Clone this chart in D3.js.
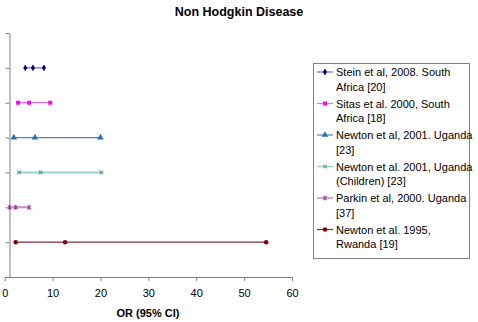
<!DOCTYPE html>
<html>
<head>
<meta charset="utf-8">
<script src="https://cdn.jsdelivr.net/npm/d3@7"></script>
<style>
  body { margin: 0; background: #fff; }
  svg { font-family: Arial, "Liberation Sans", sans-serif; }
  .axis path, .axis line { stroke: #808080; }
  .axis text { fill: #000; font-size: 11px; }
</style>
</head>
<body>
<div id="chart"></div>
<script>
// studies, top to bottom
var studies = [
  "Stein et al, 2008. South Africa [20]",
  "Sitas et al. 2000, South Africa [18]",
  "Newton et al, 2001. Uganda [23]",
  "Newton et al. 2001, Uganda (Children) [23]",
  "Parkin et al, 2000. Uganda [37]",
  "Newton et al. 1995, Rwanda [19]"
];
var legendLines = [
  ["Stein et al, 2008. South", "Africa [20]"],
  ["Sitas et al. 2000, South", "Africa [18]"],
  ["Newton et al, 2001. Uganda", "[23]"],
  ["Newton et al. 2001, Uganda", "(Children) [23]"],
  ["Parkin et al, 2000. Uganda", "[37]"],
  ["Newton et al. 1995,", "Rwanda [19]"]
];
var rowPos = [6, 5, 4, 3, 2, 1];
var lower = [4.3, 2.8, 1.9, 3.0, 1.0, 2.3];
var orVal = [5.9, 5.1, 6.3, 7.5, 2.3, 12.6];
var upper = [8.2, 9.5, 20.0, 20.2, 5.1, 54.6];
var xTicks = [0, 10, 20, 30, 40, 50, 60];

var markerColors = ["#000080", "#ff00ff", "#1f6fbf", "#339999", "#993399", "#800000"];
var lineColors = ["#6a6ab8", "#e070e0", "#4a86c0", "#99d0d0", "#c090c8", "#8b2a2a"];
var shapes = [d3.symbolDiamond, d3.symbolSquare, d3.symbolTriangle, d3.symbolCross, d3.symbolCross, d3.symbolCircle];

var w = 478, h = 322;

var svg = d3.select("#chart").append("svg")
  .attr("width", w).attr("height", h);

var xScale = d3.scaleLinear().domain([0, 60]).range([4.7, 292]);
var yScale = d3.scaleLinear().domain([0, 7]).range([277, 33]);

// title
svg.append("text")
  .attr("x", 239).attr("y", 16)
  .attr("text-anchor", "middle")
  .style("font-size", "12.5px").style("font-weight", "bold")
  .text("Non Hodgkin Disease");

// x axis
var xAxis = d3.axisBottom(xScale).tickValues(xTicks).tickSize(4).tickSizeOuter(0);
svg.append("g")
  .attr("class", "axis")
  .attr("transform", "translate(0," + yScale(0) + ")")
  .call(xAxis)
  .selectAll("text").attr("dy", "1.2em");

// y axis crosses at x = 1
var yAxis = d3.axisLeft(yScale).ticks(7).tickSize(4).tickSizeOuter(0).tickFormat("");
svg.append("g")
  .attr("class", "axis")
  .attr("transform", "translate(" + xScale(1) + ",0)")
  .call(yAxis);

svg.append("text")
  .attr("x", 148).attr("y", 317)
  .attr("text-anchor", "middle")
  .style("font-size", "11px").style("font-weight", "bold")
  .text("OR (95% CI)");

function drawMarker(g, i, x, y) {
  var size = i == 0 ? 14 : (i == 2 ? 18 : 16);
  var p = g.append("path")
    .attr("d", d3.symbol().type(shapes[i]).size(size)())
    .attr("transform", "translate(" + x + "," + y + ")" + (i == 3 || i == 4 ? " rotate(45)" : ""));
  if (i == 3 || i == 4) {
    p.attr("fill", "none").attr("stroke", markerColors[i]).attr("stroke-width", 1);
    p.attr("d", "M-2.5,0H2.5M0,-2.5V2.5");
    if (i == 4) {
      g.append("path")
        .attr("d", "M0,-2.5V2.5")
        .attr("transform", "translate(" + x + "," + y + ")")
        .attr("stroke", markerColors[i]).attr("stroke-width", 1);
    }
  } else {
    p.attr("fill", markerColors[i]);
  }
}

// series
studies.forEach(function(s, i) {
  var g = svg.append("g");
  var y = yScale(rowPos[i]);
  g.append("line")
    .attr("x1", xScale(lower[i])).attr("x2", xScale(upper[i]))
    .attr("y1", y).attr("y2", y)
    .attr("stroke", lineColors[i])
    .attr("stroke-width", (i == 3 || i == 4) ? 2 : 1.2);
  [lower[i], orVal[i], upper[i]].forEach(function(v) {
    drawMarker(g, i, xScale(v), y);
  });
});

// legend
var legend = svg.append("g");
legend.append("rect")
  .attr("x", 313.5).attr("y", 63.5)
  .attr("width", 156).attr("height", 195)
  .attr("fill", "#fff").attr("stroke", "#808080");

legendLines.forEach(function(lines, i) {
  var y0 = 76 + i * 31.5;
  var g = legend.append("g");
  g.append("line")
    .attr("x1", 317).attr("x2", 333)
    .attr("y1", y0 - 4).attr("y2", y0 - 4)
    .attr("stroke", lineColors[i])
    .attr("stroke-width", (i == 3 || i == 4) ? 1.5 : 1.2);
  drawMarker(g, i, 325, y0 - 4);
  lines.forEach(function(t, k) {
    g.append("text")
      .attr("x", 336).attr("y", y0 + k * 14.5)
      .style("font-size", "11px")
      .text(t);
  });
});
</script>
</body>
</html>
